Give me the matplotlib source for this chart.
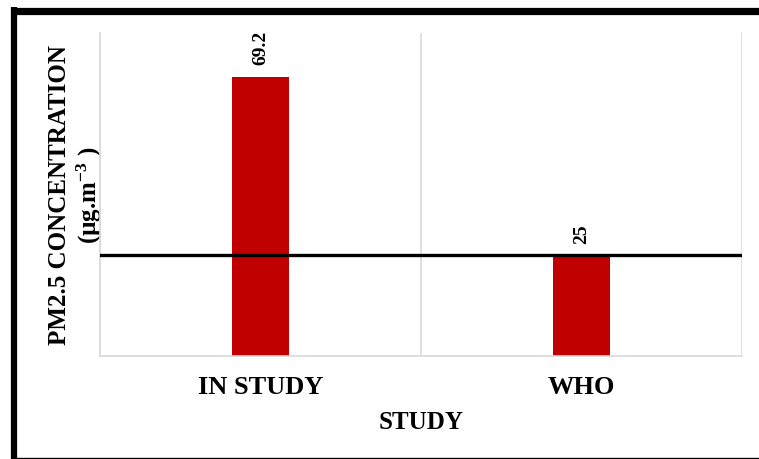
import matplotlib
matplotlib.use("Agg")
import matplotlib.pyplot as plt
from matplotlib.lines import Line2D

# data
categories = ["IN STUDY", "WHO"]
concentration = [69.2, 25]
who_limit = 25

plt.rcParams['font.family'] = ['Liberation Serif', 'DejaVu Serif']
plt.rcParams['font.weight'] = 'bold'
plt.rcParams['mathtext.fontset'] = 'custom'
plt.rcParams['mathtext.rm'] = 'Liberation Serif:bold'
plt.rcParams['mathtext.it'] = 'Liberation Serif:bold'
plt.rcParams['mathtext.bf'] = 'Liberation Serif:bold'

fig = plt.figure(figsize=(7.59, 4.60), dpi=100)
ax = fig.add_axes([0.1318, 0.2239, 0.8458, 0.7022])

x = list(range(len(categories)))
ax.bar(x, concentration, width=0.18, color='#C00000', zorder=2)
ax.axhline(who_limit, color='black', lw=2.4, zorder=3)

for xi, v in zip(x, concentration):
    ax.annotate(f"{v:g}", (xi, v), xytext=(0, 9), textcoords='offset points',
                rotation=90, ha='center', va='bottom', fontsize=14, fontweight='bold')

ax.set_xlim(-0.5, 1.5)
ax.set_ylim(0, 80)
ax.set_yticks([])
ax.set_xticks(x)
ax.set_xticklabels(categories, fontsize=19, fontweight='bold')
ax.tick_params(axis='x', length=0, pad=14)
ax.set_xticks([-0.5, 0.5, 1.5], minor=True)
ax.tick_params(axis='x', which='minor', length=0)
ax.grid(axis='x', which='minor', color='#d9d9d9', lw=1.2, zorder=0)

for s in ['top', 'right']:
    ax.spines[s].set_visible(False)
ax.spines['left'].set_color('#d9d9d9')
ax.spines['bottom'].set_color('#d9d9d9')
ax.spines['left'].set_linewidth(1.2)
ax.spines['bottom'].set_linewidth(1.2)

ax.set_xlabel("STUDY", fontsize=18, fontweight='bold', labelpad=8)
ax.set_ylabel("PM2.5 CONCENTRATION\n(\u00b5g.m$^{-3}$ )", fontsize=18,
              fontweight='bold', labelpad=-3, linespacing=1.2)

# frame around the figure
fig.add_artist(Line2D([11/759, 1], [1 - 11.5/460] * 2, color='black', lw=5.2,
                      solid_capstyle='butt'))
fig.add_artist(Line2D([14/759] * 2, [0, 1 - 8/460], color='black', lw=4.5,
                      solid_capstyle='butt'))
fig.add_artist(Line2D([11/759, 1], [1.5/460] * 2, color='black', lw=1.0,
                      solid_capstyle='butt'))

fig.savefig("out.png", dpi=100)
